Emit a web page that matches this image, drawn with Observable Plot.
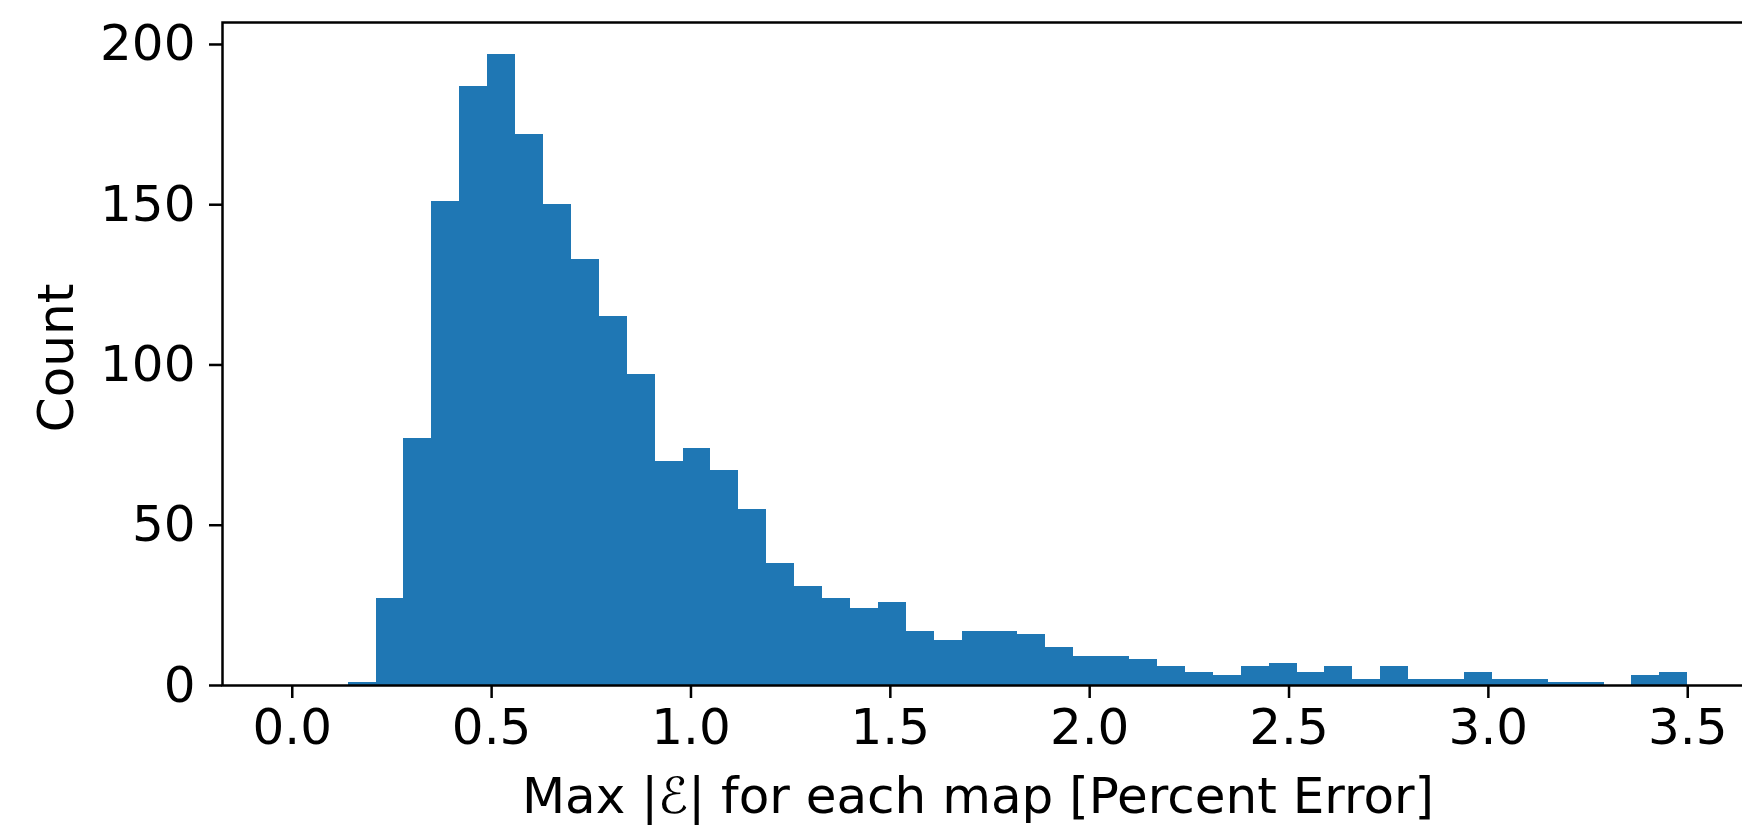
<!DOCTYPE html>
<html>
<head>
<meta charset="utf-8">
<script src="https://cdn.jsdelivr.net/npm/d3@7"></script>
<script src="https://cdn.jsdelivr.net/npm/@observablehq/plot@0.6"></script>
<style>
  html, body { margin: 0; padding: 0; background: white; overflow: hidden; }
  #chart svg { display: block; }
</style>
</head>
<body>
<div id="chart"></div>
<script>
// Histogram bin edges (50 bins of width 0.07 from 0 to 3.5)
const binEdges = [0.00, 0.07, 0.14, 0.21, 0.28, 0.35, 0.42, 0.49, 0.56, 0.63,
                  0.70, 0.77, 0.84, 0.91, 0.98, 1.05, 1.12, 1.19, 1.26, 1.33,
                  1.40, 1.47, 1.54, 1.61, 1.68, 1.75, 1.82, 1.89, 1.96, 2.03,
                  2.10, 2.17, 2.24, 2.31, 2.38, 2.45, 2.52, 2.59, 2.66, 2.73,
                  2.80, 2.87, 2.94, 3.01, 3.08, 3.15, 3.22, 3.29, 3.36, 3.43, 3.50];
// Counts per bin
const counts = [0, 0, 1, 27, 77, 151, 187, 197, 172, 150,
                133, 115, 97, 70, 74, 67, 55, 38, 31, 27,
                24, 26, 17, 14, 17, 17, 16, 12, 9, 9,
                8, 6, 4, 3, 6, 7, 4, 6, 2, 6,
                2, 2, 4, 2, 2, 1, 1, 0, 3, 4];
const xTicks = [0.0, 0.5, 1.0, 1.5, 2.0, 2.5, 3.0, 3.5];
const yTicks = [0, 50, 100, 150, 200];
const xLabel = "Max |\u2130| for each map [Percent Error]";
const yLabel = "Count";

const bins = counts.map((c, i) => ({x1: binEdges[i], x2: binEdges[i + 1], count: c}));

const barColor = "#1f77b4";
const fontSize = 50;

const chart = Plot.plot({
  width: 1742,
  height: 827,
  marginLeft: 222,
  marginRight: -15,
  marginTop: 22,
  marginBottom: 142,
  style: {fontFamily: "'DejaVu Sans', sans-serif", color: "black", background: "white"},
  x: {domain: [-0.175, 3.675]},
  y: {domain: [0, 206.85]},
  marks: [
    Plot.rectY(bins, {x1: "x1", x2: "x2", y: "count", fill: barColor, inset: 0,
                      shapeRendering: "crispEdges"}),
    Plot.frame({stroke: "black", strokeWidth: 2.5}),
    Plot.axisX({ticks: xTicks, tickFormat: d3.format(".1f"), tickSize: 13, tickPadding: 10,
                fontSize: fontSize, strokeWidth: 2.5, label: null}),
    Plot.axisY({ticks: yTicks, tickFormat: d3.format("d"), tickSize: 13, tickPadding: 14,
                fontSize: fontSize, strokeWidth: 2.5, label: null}),
    Plot.text([xLabel], {frameAnchor: "bottom", textAnchor: "middle", lineAnchor: "top",
                         dy: 92, dx: -12, fontSize: fontSize, fill: "black"}),
    Plot.text([yLabel], {frameAnchor: "left", textAnchor: "middle", rotate: -90,
                         lineAnchor: "middle", dx: -166, dy: 4, fontSize: fontSize, fill: "black"})
  ]
});

document.getElementById("chart").appendChild(chart);
</script>
</body>
</html>
